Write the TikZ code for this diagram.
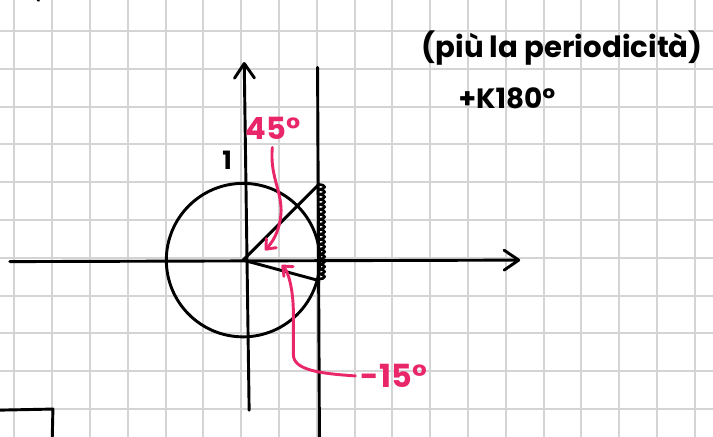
\documentclass[tikz,border=0pt]{standalone}
\usepackage{fontspec}
\setmainfont{Poppins}
\usepackage{xcolor}
\usepackage{tikz}
\usetikzlibrary{arrows.meta}
\usetikzlibrary{decorations.pathmorphing}
\definecolor{quaderno}{RGB}{212,212,212}
\definecolor{evidenzia}{RGB}{233,38,106}
\tikzset{
    quadretti/.style={color=quaderno, line width=1.5pt},
    pen/.style={line width=2.2pt, line cap=round, line join=round},
    marker/.style={color=evidenzia, line width=2.2pt, line cap=round, line join=round},
    axis tip/.style={-{Straight Barb[length=11pt, width=15pt, round]}},
    marker tip/.style={-{Straight Barb[length=6pt, width=10pt, round]}},
    scritta/.style={inner sep=1pt, font=\fontsize{#1}{#1}\selectfont\bfseries},
    scritta/.default=20
}

\begin{document}
\begin{tikzpicture}
    \useasboundingbox (-6.43,-4.66) rectangle (12.43,6.88);
    \clip (-6.43,-4.66) rectangle (12.43,6.88);
    \draw[quadretti, shift={(-0.05,0.06)}] (-7,-5) grid (13,7);
    \coordinate (O) at (0,0);
    \coordinate (T45) at (2,2);
    \coordinate (T15) at (2,-0.6);
    \coordinate (A45) at (0.58,0.26);
    \coordinate (A15) at (1.02,-0.13);
    \draw[pen, axis tip] (-6.17,-0.04) -- (7.33,0);
    \draw[pen, axis tip] (0.16,-3.97) -- (0.03,5.24);
    \draw[pen] (1.97,5.1) -- (2.02,-4.75);
    \draw[pen] (O) circle (2.03);
    \draw[pen] (O) -- (T45);
    \draw[pen] (O) -- (2,-0.54);
    \draw[pen, line width=2pt, decorate, decoration={bumps, amplitude=4.5pt, segment length=7.5pt}] (T45) -- (T15);
    \draw[pen] (-6.5,-3.97) -- (-5.03,-3.94) -- (-5.05,-4.8);
    \draw[pen] (-5.44,6.93) -- (-5.41,6.87);
    \node[scritta=19] (uno) at (-0.42,2.65) {1};
    \node[scritta=23, color=evidenzia] (lbl45) at (0.79,3.49) {45°};
    \node[scritta=24, color=evidenzia] (lbl15) at (3.99,-3.07) {-15°};
    \node[scritta=22] (nota) at (8.44,5.61) {(più la periodicità)};
    \node[scritta=21] (periodo) at (6.98,4.29) {+K180°};
    \draw[marker, marker tip, shorten <=5pt] (lbl45.south) .. controls (0.7,2.2) and (1.05,1.8) .. (1.0,1.2)
        .. controls (0.95,0.7) and (0.75,0.45) .. (A45);
    \draw[marker, marker tip, shorten <=3pt] (lbl15.west) .. controls (2.0,-3.0) and (1.33,-2.9) .. (1.33,-2.5)
        -- (1.33,-1.4) .. controls (1.33,-0.8) and (1.2,-0.3) .. (A15);
\end{tikzpicture}
\end{document}
